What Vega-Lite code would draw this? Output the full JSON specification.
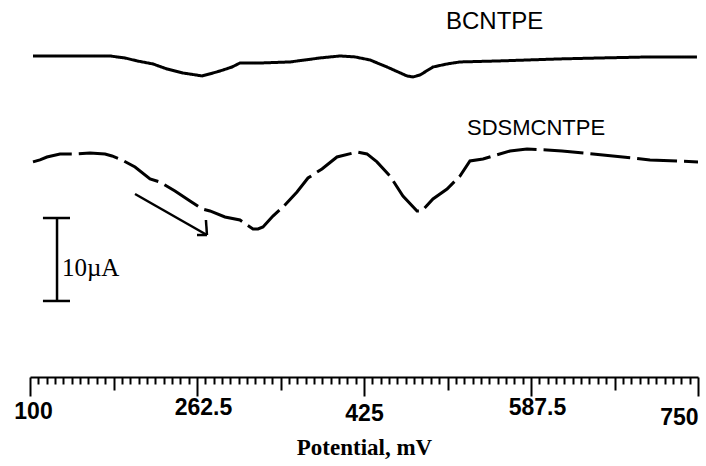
{
  "$schema": "https://vega.github.io/schema/vega-lite/v6.json",
  "width": 668,
  "height": 377,
  "autosize": {"type": "none"},
  "padding": {"left": 30, "top": 0, "right": 8, "bottom": 89},
  "background": "white",
  "config": {"view": {"stroke": null}},
  "datasets": {
    "curves": [
      {"series": "BCNTPE", "mV": 102.9, "uA": 30.57},
      {"series": "BCNTPE", "mV": 129.2, "uA": 30.57},
      {"series": "BCNTPE", "mV": 177.8, "uA": 30.57},
      {"series": "BCNTPE", "mV": 192.4, "uA": 30.38},
      {"series": "BCNTPE", "mV": 204.1, "uA": 30.10},
      {"series": "BCNTPE", "mV": 219.7, "uA": 29.81},
      {"series": "BCNTPE", "mV": 233.3, "uA": 29.33},
      {"series": "BCNTPE", "mV": 248.9, "uA": 28.95},
      {"series": "BCNTPE", "mV": 267.4, "uA": 28.67},
      {"series": "BCNTPE", "mV": 278.1, "uA": 28.95},
      {"series": "BCNTPE", "mV": 284.9, "uA": 29.14},
      {"series": "BCNTPE", "mV": 296.6, "uA": 29.52},
      {"series": "BCNTPE", "mV": 304.3, "uA": 29.90},
      {"series": "BCNTPE", "mV": 323.8, "uA": 29.90},
      {"series": "BCNTPE", "mV": 353.0, "uA": 30.00},
      {"series": "BCNTPE", "mV": 367.6, "uA": 30.19},
      {"series": "BCNTPE", "mV": 382.2, "uA": 30.38},
      {"series": "BCNTPE", "mV": 401.6, "uA": 30.57},
      {"series": "BCNTPE", "mV": 416.2, "uA": 30.48},
      {"series": "BCNTPE", "mV": 430.8, "uA": 30.19},
      {"series": "BCNTPE", "mV": 447.4, "uA": 29.52},
      {"series": "BCNTPE", "mV": 458.1, "uA": 29.05},
      {"series": "BCNTPE", "mV": 466.8, "uA": 28.67},
      {"series": "BCNTPE", "mV": 472.7, "uA": 28.57},
      {"series": "BCNTPE", "mV": 479.5, "uA": 28.76},
      {"series": "BCNTPE", "mV": 492.1, "uA": 29.52},
      {"series": "BCNTPE", "mV": 505.8, "uA": 29.81},
      {"series": "BCNTPE", "mV": 518.4, "uA": 30.00},
      {"series": "BCNTPE", "mV": 557.3, "uA": 30.10},
      {"series": "BCNTPE", "mV": 615.7, "uA": 30.29},
      {"series": "BCNTPE", "mV": 654.6, "uA": 30.38},
      {"series": "BCNTPE", "mV": 703.3, "uA": 30.48},
      {"series": "BCNTPE", "mV": 749.0, "uA": 30.48},
      {"series": "SDSMCNTPE", "mV": 102.9, "uA": 20.48},
      {"series": "SDSMCNTPE", "mV": 109.7, "uA": 20.67},
      {"series": "SDSMCNTPE", "mV": 116.5, "uA": 20.95},
      {"series": "SDSMCNTPE", "mV": 129.2, "uA": 21.24},
      {"series": "SDSMCNTPE", "mV": 143.8, "uA": 21.24},
      {"series": "SDSMCNTPE", "mV": 158.4, "uA": 21.33},
      {"series": "SDSMCNTPE", "mV": 173.0, "uA": 21.24},
      {"series": "SDSMCNTPE", "mV": 179.8, "uA": 21.05},
      {"series": "SDSMCNTPE", "mV": 189.5, "uA": 20.67},
      {"series": "SDSMCNTPE", "mV": 202.2, "uA": 20.00},
      {"series": "SDSMCNTPE", "mV": 216.8, "uA": 18.86},
      {"series": "SDSMCNTPE", "mV": 226.5, "uA": 18.57},
      {"series": "SDSMCNTPE", "mV": 241.1, "uA": 17.71},
      {"series": "SDSMCNTPE", "mV": 255.7, "uA": 16.76},
      {"series": "SDSMCNTPE", "mV": 267.4, "uA": 16.00},
      {"series": "SDSMCNTPE", "mV": 275.1, "uA": 15.81},
      {"series": "SDSMCNTPE", "mV": 289.7, "uA": 15.24},
      {"series": "SDSMCNTPE", "mV": 304.3, "uA": 14.95},
      {"series": "SDSMCNTPE", "mV": 311.1, "uA": 14.48},
      {"series": "SDSMCNTPE", "mV": 317.0, "uA": 14.10},
      {"series": "SDSMCNTPE", "mV": 321.9, "uA": 14.10},
      {"series": "SDSMCNTPE", "mV": 326.7, "uA": 14.29},
      {"series": "SDSMCNTPE", "mV": 336.4, "uA": 15.33},
      {"series": "SDSMCNTPE", "mV": 346.2, "uA": 16.19},
      {"series": "SDSMCNTPE", "mV": 359.8, "uA": 17.62},
      {"series": "SDSMCNTPE", "mV": 370.5, "uA": 18.95},
      {"series": "SDSMCNTPE", "mV": 384.1, "uA": 19.81},
      {"series": "SDSMCNTPE", "mV": 398.7, "uA": 20.95},
      {"series": "SDSMCNTPE", "mV": 418.2, "uA": 21.43},
      {"series": "SDSMCNTPE", "mV": 427.9, "uA": 21.24},
      {"series": "SDSMCNTPE", "mV": 437.6, "uA": 20.48},
      {"series": "SDSMCNTPE", "mV": 450.3, "uA": 19.14},
      {"series": "SDSMCNTPE", "mV": 462.9, "uA": 17.24},
      {"series": "SDSMCNTPE", "mV": 476.6, "uA": 15.81},
      {"series": "SDSMCNTPE", "mV": 481.4, "uA": 15.81},
      {"series": "SDSMCNTPE", "mV": 492.1, "uA": 16.95},
      {"series": "SDSMCNTPE", "mV": 505.8, "uA": 17.90},
      {"series": "SDSMCNTPE", "mV": 518.4, "uA": 19.14},
      {"series": "SDSMCNTPE", "mV": 528.1, "uA": 20.57},
      {"series": "SDSMCNTPE", "mV": 540.8, "uA": 20.76},
      {"series": "SDSMCNTPE", "mV": 550.5, "uA": 21.05},
      {"series": "SDSMCNTPE", "mV": 567.1, "uA": 21.52},
      {"series": "SDSMCNTPE", "mV": 583.6, "uA": 21.71},
      {"series": "SDSMCNTPE", "mV": 603.1, "uA": 21.62},
      {"series": "SDSMCNTPE", "mV": 617.7, "uA": 21.52},
      {"series": "SDSMCNTPE", "mV": 647.8, "uA": 21.24},
      {"series": "SDSMCNTPE", "mV": 686.8, "uA": 20.86},
      {"series": "SDSMCNTPE", "mV": 703.3, "uA": 20.67},
      {"series": "SDSMCNTPE", "mV": 750.0, "uA": 20.48}
    ],
    "rules": [
      {"part": "scale bar", "mV": 126.3, "uA": 7.24, "mV2": 126.3, "uA2": 15.14},
      {"part": "scale bar top", "mV": 112.6, "uA": 15.14, "mV2": 138.9, "uA2": 15.14},
      {"part": "scale bar bottom", "mV": 112.6, "uA": 7.24, "mV2": 138.9, "uA2": 7.24},
      {"part": "arrow shaft", "mV": 202.2, "uA": 17.43, "mV2": 272.2, "uA2": 13.52},
      {"part": "arrow head 1", "mV": 272.2, "uA": 13.52, "mV2": 271.2, "uA2": 14.95},
      {"part": "arrow head 2", "mV": 272.2, "uA": 13.52, "mV2": 262.5, "uA2": 13.52}
    ],
    "names": [
      {"label": "BCNTPE", "mV": 504.8, "uA": 33.81},
      {"label": "SDSMCNTPE", "mV": 525.2, "uA": 23.7}
    ],
    "scaleText": [
      {"label": "10µA", "mV": 131.1, "uA": 10.4}
    ]
  },
  "encoding": {
    "x": {
      "field": "mV",
      "type": "quantitative",
      "scale": {"domain": [100, 750], "nice": false, "zero": false},
      "axis": {
        "title": "Potential, mV",
        "titleFont": "Liberation Serif",
        "titleFontWeight": "bold",
        "titleFontSize": 23,
        "titleColor": "black",
        "titleBaseline": "middle",
        "titleY": 70,
        "domainColor": "black",
        "domainWidth": 2,
        "tickColor": "black",
        "tickWidth": 2,
        "values": [100, 108.125, 116.25, 124.375, 132.5, 140.625, 148.75, 156.875, 165, 173.125, 181.25, 189.375, 197.5, 205.625, 213.75, 221.875, 230, 238.125, 246.25, 254.375, 262.5, 270.625, 278.75, 286.875, 295, 303.125, 311.25, 319.375, 327.5, 335.625, 343.75, 351.875, 360, 368.125, 376.25, 384.375, 392.5, 400.625, 408.75, 416.875, 425, 433.125, 441.25, 449.375, 457.5, 465.625, 473.75, 481.875, 490, 498.125, 506.25, 514.375, 522.5, 530.625, 538.75, 546.875, 555, 563.125, 571.25, 579.375, 587.5, 595.625, 603.75, 611.875, 620, 628.125, 636.25, 644.375, 652.5, 660.625, 668.75, 676.875, 685, 693.125, 701.25, 709.375, 717.5, 725.625, 733.75, 741.875, 750],
        "tickSize": {
          "condition": [
            {"test": "(datum.value - 100) % 162.5 == 0", "value": 19},
            {"test": "(datum.value - 100) % 81.25 == 0", "value": 13}
          ],
          "value": 7
        },
        "labelExpr": "(datum.value - 100) % 162.5 == 0 ? '' + datum.value : ''",
        "labelOverlap": false,
        "labelFlush": false,
        "labelFont": "Liberation Sans",
        "labelFontWeight": "bold",
        "labelFontSize": 23,
        "labelColor": "black",
        "labelAlign": {
          "condition": {"test": "datum.value == 750", "value": "right"},
          "value": "center"
        },
        "labelOffset": {
          "condition": [
            {"test": "datum.value == 262.5 || datum.value == 587.5", "value": 6},
            {"test": "datum.value == 100", "value": 3}
          ],
          "value": 0
        },
        "labelPadding": {
          "condition": [
            {"test": "datum.value == 262.5 || datum.value == 587.5", "value": 0},
            {"test": "datum.value == 425", "value": 6},
            {"test": "datum.value == 750", "value": 10}
          ],
          "value": 4
        },
        "grid": false
      }
    },
    "y": {
      "field": "uA",
      "type": "quantitative",
      "scale": {"domain": [0, 35.9], "nice": false, "zero": false},
      "axis": null
    }
  },
  "layer": [
    {
      "data": {"name": "curves"},
      "mark": {"type": "line", "color": "black", "strokeWidth": 3, "strokeCap": "butt"},
      "encoding": {
        "detail": {"field": "series"},
        "strokeDash": {
          "field": "series",
          "type": "nominal",
          "scale": {"domain": ["BCNTPE", "SDSMCNTPE"], "range": [[1, 0], [40, 7]]},
          "legend": null
        }
      }
    },
    {
      "data": {"name": "rules"},
      "mark": {"type": "rule", "color": "black", "strokeWidth": 2.5},
      "encoding": {
        "x2": {"field": "mV2"},
        "y2": {"field": "uA2"}
      }
    },
    {
      "data": {"name": "names"},
      "transform": [{"filter": "datum.label == 'BCNTPE'"}],
      "mark": {"type": "text", "align": "left", "baseline": "middle", "font": "Liberation Sans", "fontSize": 24, "color": "black"},
      "encoding": {"text": {"field": "label"}}
    },
    {
      "data": {"name": "names"},
      "transform": [{"filter": "datum.label == 'SDSMCNTPE'"}],
      "mark": {"type": "text", "align": "left", "baseline": "middle", "font": "Liberation Sans", "fontSize": 22, "color": "black"},
      "encoding": {"text": {"field": "label"}}
    },
    {
      "data": {"name": "scaleText"},
      "mark": {"type": "text", "align": "left", "baseline": "middle", "font": "Liberation Serif", "fontSize": 25, "color": "black"},
      "encoding": {"text": {"field": "label"}}
    }
  ]
}
